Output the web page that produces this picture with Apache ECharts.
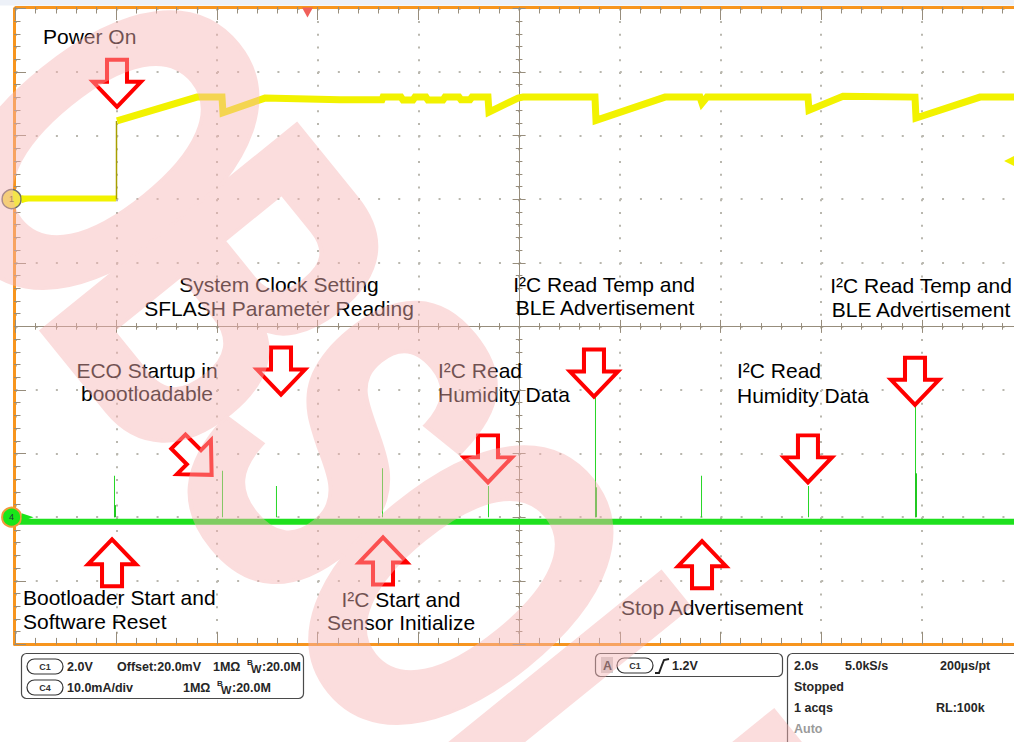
<!DOCTYPE html>
<html><head><meta charset="utf-8">
<script src="https://cdn.jsdelivr.net/npm/echarts@6.0.0/dist/echarts.min.js"></script>
<style>
html,body{margin:0;padding:0;background:#fff}
#wrap{position:relative;width:1014px;height:742px}
#c{position:absolute;left:0;top:0;width:1014px;height:742px}
#wm{position:absolute;left:0;top:0;width:1014px;height:742px;opacity:0.45;pointer-events:none}
</style>
</head><body><div id="wrap"><div id="c"></div><div id="wm"></div></div>
<script>
// time axis: seconds from left edge of screen (10 div x 2.0 s)
// channel 1 in volts (2.0 V/div), channel 4 in mA (10 mA/div)
const ch1Before = [[0, 0.02], [1.994, 0.02]];
const ch1Edge = [[2.004, 0.0], [2.004, 2.46]];
const ch1After = [[2.014, 2.46], [3.603, 3.21], [4.099, 3.21], [4.119, 2.72], [4.953, 3.18], [6.443, 3.13],
  [7.277, 3.13], [7.297, 3.21], [7.654, 3.21], [7.694, 3.12], [7.892, 3.12], [7.932, 3.21], [8.150, 3.21],
  [8.190, 3.12], [8.488, 3.12], [8.528, 3.21], [8.806, 3.21], [8.846, 3.13], [9.025, 3.13], [9.065, 3.21],
  [9.382, 3.21], [9.402, 2.74], [9.978, 3.18], [10.077, 3.21], [11.507, 3.21], [11.527, 2.48], [12.898, 3.21],
  [13.593, 3.21], [13.633, 3.02], [13.732, 3.21], [15.738, 3.21], [15.758, 2.80], [16.433, 3.24], [17.863, 3.21],
  [17.883, 2.55], [19.154, 3.21], [20, 3.21]];
const ch4Base = [[0, -0.7], [20, -0.7]];
const ch4Spikes = [[1.974, 6.5], [4.119, 7.3], [5.191, 4.9], [7.297, 7.7], [9.402, 4.9], [11.527, 18.9],
  [13.633, 6.5], [15.758, 4.9], [17.883, 19.2]];
const ch4SpikeBody = [[1.974, 1.9], [11.527, 4.7], [17.883, 6.9]];
const ch1TriggerLevel = [20, 1.2];
const triggerPosition = [5.797, 6];
const arrowsDownCh1 = [[2.014, 2.89]];
const arrowsDownCh4 = [[5.271, 19.2], [9.382, 5.4], [11.487, 18.9], [15.737, 5.4], [17.863, 17.6]];
const arrowsUpCh4 = [[1.915, -3.4], [7.297, -3.1], [13.633, -3.7]];
const arrowsDiagCh4 = [[3.901, 6.6]];
const watermarkLetters = ['O', 'B', 'S', 'O', 'L', 'E'];

const ORANGE = '#f7951e', TICK = '#978d7c', DOT = '#b9b7ae';
const FONT = '"Liberation Sans", Arial, sans-serif';
const ARROW = 'path://M14 0L34 0L34 22L48 22L24 47L0 22L14 22Z';

function arrowMarks(list, kind) {
  return list.map(p => ({
    coord: p, symbol: ARROW, symbolSize: [48, 47],
    symbolRotate: kind === 'up' ? 180 : (kind === 'diag' ? 45 : 0),
    symbolOffset: kind === 'up' ? [0, 24] : (kind === 'diag' ? [-17, -17] : [0, -24]),
    itemStyle: { color: '#ffffff', borderColor: '#ff0000', borderWidth: 4 },
    label: { show: false }
  }));
}

function frameX(pos, offset, inside, color, width, major, minor, split) {
  return {
    type: 'value', min: 0, max: 20, interval: 2, position: pos, offset: offset,
    axisLine: { show: true, onZero: false, lineStyle: { color: color, width: width } },
    axisTick: { show: true, inside: inside, length: major, lineStyle: { color: TICK, width: 1 } },
    minorTick: { show: true, splitNumber: 5, length: minor, lineStyle: { color: TICK, width: 1 } },
    axisLabel: { show: false },
    splitLine: split ? { show: true, lineStyle: { color: DOT, width: 2, type: [2, 10.72] } } : { show: false },
    minorSplitLine: { show: false }
  };
}
function frameY(min, max, interval, pos, offset, inside, color, width, major, minor, split) {
  return {
    type: 'value', min: min, max: max, interval: interval, position: pos, offset: offset,
    axisLine: { show: true, onZero: false, lineStyle: { color: color, width: width } },
    axisTick: { show: true, inside: inside, length: major, lineStyle: { color: TICK, width: 1 } },
    minorTick: { show: true, splitNumber: 5, length: minor, lineStyle: { color: TICK, width: 1 } },
    axisLabel: { show: false },
    splitLine: split ? { show: true, lineStyle: { color: DOT, width: 2, type: [2, 18.14] } } : { show: false },
    minorSplitLine: { show: false }
  };
}

function txt(x, y, text, align, extra) {
  return { type: 'text', x: x, y: y, z: 50, silent: true,
    style: Object.assign({ text: text, font: '21px ' + FONT, fill: '#000', align: align || 'left', verticalAlign: 'middle' }, extra || {}) };
}
function st(x, y, text, extra) {
  return { type: 'text', x: x, y: y, z: 50, silent: true,
    style: Object.assign({ text: text, font: 'bold 12.5px ' + FONT, fill: '#262626', align: 'left', verticalAlign: 'middle' }, extra || {}) };
}
function pill(x, y, label) {
  return [
    { type: 'rect', z: 50, shape: { x: x, y: y, width: 36, height: 15, r: 7.5 }, style: { fill: '#fff', stroke: '#333', lineWidth: 1.2 } },
    { type: 'text', z: 51, x: x + 18, y: y + 7.5, style: { text: label, font: 'bold 9px ' + FONT, fill: '#333', align: 'center', verticalAlign: 'middle' } }
  ];
}
function bw(x, y) {
  return [
    { type: 'text', z: 50, x: x, y: y - 4, style: { text: 'B', font: 'bold 8px ' + FONT, fill: '#262626', align: 'left', verticalAlign: 'middle' } },
    { type: 'text', z: 50, x: x + 4, y: y + 2, style: { text: 'W', font: 'bold 11px ' + FONT, fill: '#262626', align: 'left', verticalAlign: 'middle' } },
    { type: 'text', z: 50, x: x + 15, y: y, style: { text: ':20.0M', font: 'bold 12.5px ' + FONT, fill: '#262626', align: 'left', verticalAlign: 'middle' } }
  ];
}

const graphics = [
  { type: 'rect', z: 0, shape: { x: 0, y: 0, width: 1014, height: 5.5 }, style: { fill: '#edf1f8' } },
  txt(43, 36, 'Power On'),
  txt(279, 284, 'System Clock Setting', 'center'),
  txt(279, 308, 'SFLASH Parameter Reading', 'center'),
  txt(604, 284, 'I\u00b2C Read Temp and', 'center'),
  txt(605, 307, 'BLE Advertisement', 'center'),
  txt(921, 285, 'I\u00b2C Read Temp and', 'center'),
  txt(921, 309, 'BLE Advertisement', 'center'),
  txt(147, 370, 'ECO Startup in', 'center'),
  txt(147, 393, 'boootloadable', 'center'),
  txt(438, 370, 'I\u00b2C Read'),
  txt(438, 394, 'Humidity Data'),
  txt(737, 370, 'I\u00b2C Read'),
  txt(737, 395, 'Humidity Data'),
  txt(23, 597, 'Bootloader Start and'),
  txt(23, 621, 'Software Reset'),
  txt(401, 599, 'I\u00b2C Start and', 'center'),
  txt(401, 622, 'Sensor Initialize', 'center'),
  txt(712, 607, 'Stop Advertisement', 'center'),
  // status bar
  { type: 'rect', z: 49, shape: { x: 21.5, y: 653.5, width: 282, height: 45, r: 5 }, style: { fill: '#fff', stroke: '#4a4a4a', lineWidth: 1.2 } },
  ...pill(27, 659, 'C1'), ...pill(27, 680, 'C4'),
  st(67, 666.5, '2.0V'), st(117, 666.5, 'Offset:20.0mV'), st(213, 666.5, '1M\u03a9'), ...bw(247, 666.5),
  st(67, 687.5, '10.0mA/div'), st(183, 687.5, '1M\u03a9'), ...bw(217, 687.5),
  { type: 'rect', z: 49, shape: { x: 595.5, y: 653.5, width: 187, height: 23, r: 5 }, style: { fill: '#fff', stroke: '#4a4a4a', lineWidth: 1.2 } },
  { type: 'rect', z: 50, shape: { x: 601, y: 657, width: 12, height: 16 }, style: { fill: '#cfcfcf' } },
  st(603, 665.5, 'A'),
  ...pill(617, 658, 'C1'),
  { type: 'polyline', z: 50, shape: { points: [[655, 673], [659, 673], [662, 665], [664, 660], [669, 659]] }, style: { stroke: '#222', lineWidth: 2, fill: null } },
  st(672, 665.5, '1.2V'),
  { type: 'rect', z: 49, shape: { x: 787.5, y: 653.5, width: 260, height: 120, r: 5 }, style: { fill: '#fff', stroke: '#4a4a4a', lineWidth: 1.2 } },
  st(794, 666, '2.0s'), st(845, 666, '5.0kS/s'), st(940, 666, '200\u00b5s/pt'),
  st(794, 687, 'Stopped'), st(794, 708, '1 acqs'), st(936, 708, 'RL:100k'), st(794, 729, 'Auto', { fill: '#9a9a9a' })
];

const chart = echarts.init(document.getElementById('c'), null, { renderer: 'svg' });
chart.setOption({
  animation: false,
  backgroundColor: '#ffffff',
  grid: { left: 15.6, top: 8.4, width: 1007, height: 636, containLabel: false, outerBoundsMode: 'none' },
  xAxis: [
    frameX('bottom', 0, true, ORANGE, 3, 12.5, 6.5, true),
    frameX('top', 1.4, true, ORANGE, 3, 13, 6.5, false),
    frameX('bottom', -318, true, TICK, 1, 6.5, 3.3, false),
    frameX('bottom', -318, false, TICK, 1, 6.5, 3.3, false)
  ],
  yAxis: [
    frameY(-14, 6, 2, 'left', 1.6, true, ORANGE, 3, 12, 6.5, true),
    Object.assign(frameY(-20, 80, 10, 'right', 0, true, ORANGE, 3, 12, 6, false), { show: false }),
    frameY(-5, 5, 1, 'left', -503.5, true, TICK, 1, 6.5, 3.3, false),
    frameY(-5, 5, 1, 'left', -503.5, false, TICK, 1, 6.5, 3.3, false)
  ],
  series: [
    { name: 'C4 base', type: 'line', xAxisIndex: 0, yAxisIndex: 1, data: ch4Base, symbol: 'none', z: 3, clip: false,
      lineStyle: { color: '#1ee01e', width: 6 },
      markPoint: { z: 6, data: [
        { coord: [0, 0], symbol: 'circle', symbolSize: 19, symbolOffset: [-4, 0], itemStyle: { color: '#19e619', borderColor: '#f29a3a', borderWidth: 2 },
          label: { show: true, formatter: '4', color: '#234', fontSize: 9, fontFamily: FONT } },
        { coord: [0, 0], symbol: 'triangle', symbolSize: [8, 12], symbolRotate: -90, symbolOffset: [12, 0], itemStyle: { color: '#19e619' }, label: { show: false } },
        ...arrowMarks(arrowsDownCh4, 'down'), ...arrowMarks(arrowsUpCh4, 'up'), ...arrowMarks(arrowsDiagCh4, 'diag')
      ] } },
    { name: 'C4 spikes', type: 'bar', xAxisIndex: 0, yAxisIndex: 1, data: ch4Spikes, barWidth: 1, barGap: '-100%', z: 4,
      itemStyle: { color: '#26d626' } },
    { name: 'C4 spike body', type: 'bar', xAxisIndex: 0, yAxisIndex: 1, data: ch4SpikeBody, barWidth: 2, barGap: '-100%', z: 4,
      itemStyle: { color: '#20c820' } },
    { name: 'C1 before', type: 'line', xAxisIndex: 0, yAxisIndex: 0, data: ch1Before, symbol: 'none', z: 5, clip: false,
      lineStyle: { color: '#f2f200', width: 6 },
      markPoint: { z: 6, data: [
        { coord: [0, 0], symbol: 'circle', symbolSize: 19, symbolOffset: [-4, 0], itemStyle: { color: '#f3e54a', borderColor: '#6b6b6b', borderWidth: 1.5 },
          label: { show: true, formatter: '1', color: '#6a5a20', fontSize: 9, fontFamily: FONT } },
        { coord: [0, 0], symbol: 'triangle', symbolSize: [8, 12], symbolRotate: -90, symbolOffset: [12, 0], itemStyle: { color: '#f2f200' }, label: { show: false } }
      ] } },
    { name: 'C1 edge', type: 'line', xAxisIndex: 0, yAxisIndex: 0, data: ch1Edge, symbol: 'none', z: 5,
      lineStyle: { color: '#a8a000', width: 1.5 } },
    { name: 'C1 after', type: 'line', xAxisIndex: 0, yAxisIndex: 0, data: ch1After, symbol: 'none', z: 5, clip: false,
      lineStyle: { color: '#f2f200', width: 7, join: 'miter' },
      markPoint: { z: 6, data: [
        ...arrowMarks(arrowsDownCh1, 'down'),
        { coord: ch1TriggerLevel, symbol: 'triangle', symbolSize: [11, 11], symbolRotate: 90, symbolOffset: [-13, 0], itemStyle: { color: '#f2f200' }, label: { show: false } },
        { coord: triggerPosition, symbol: 'triangle', symbolSize: [11, 10], symbolRotate: 180, symbolOffset: [0, 4], itemStyle: { color: '#f0605a' }, label: { show: false } }
      ] } }
  ],
  graphic: { elements: graphics }
});

// watermark layer: opaque letters in an overlay whose CSS opacity makes them translucent as one group
const wmStart = [108, 150], wmStep = [118, 145];
const watermark = watermarkLetters.map((ch, i) => ({
  type: 'text', silent: true,
  x: wmStart[0] + i * wmStep[0], y: wmStart[1] + i * wmStep[1],
  rotation: -0.89, scaleX: 0.63, scaleY: 1,
  style: { text: ch, font: 'bold 470px ' + FONT, fill: '#f8b4b4', stroke: '#f8b4b4', lineWidth: 9, lineJoin: 'round',
    align: 'center', verticalAlign: 'middle' }
}));
const wmChart = echarts.init(document.getElementById('wm'), null, { renderer: 'svg' });
wmChart.setOption({ animation: false, backgroundColor: 'transparent', graphic: { elements: watermark } });
</script>
</body></html>
